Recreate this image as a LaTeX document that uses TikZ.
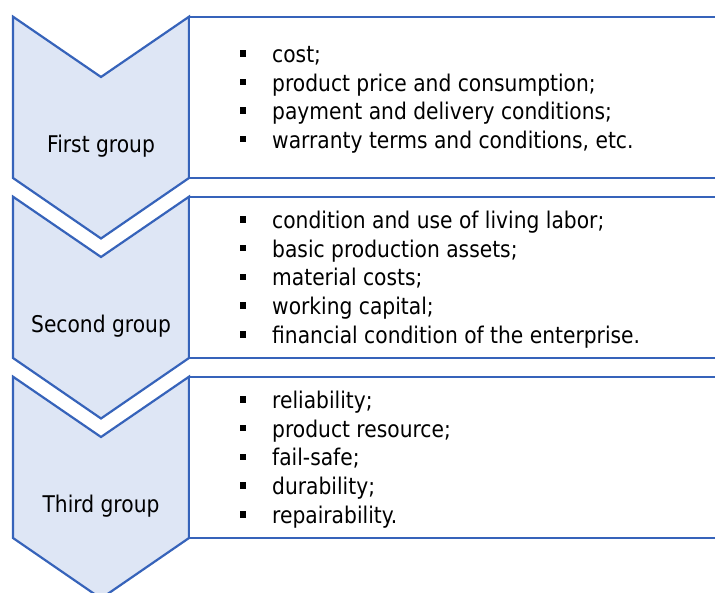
\documentclass[tikz,border=0pt]{standalone}
\usepackage{fontspec}
\setmainfont{DejaVu Sans}[FakeStretch=0.88]
\definecolor{chevfill}{HTML}{DEE6F5}
\definecolor{chevline}{HTML}{3663BA}
\tikzset{
  chev/.style={fill=chevfill, draw=chevline, line width=2.2pt, line join=miter},
  infobox/.style={fill=white, draw=chevline, line width=2.2pt},
  grouplabel/.style={font=\fontsize{23}{27}\selectfont, inner sep=0pt, anchor=base},
  itemtext/.style={font=\fontsize{23}{27}\selectfont, anchor=base west, inner sep=0pt},
  bulletbox/.style={fill=black, minimum size=6.5pt, inner sep=0pt},
}
\begin{document}
\begin{tikzpicture}[x=1pt,y=-1pt]
\clip (0,0) rectangle (715,592);
% group frames
\foreach \g in {0,1,2}{
  \pgfmathsetmacro{\o}{180*\g}
  \draw[chev] (13,16.7+\o) -- (101,77+\o) -- (189,16.7+\o) -- (189,178+\o) -- (101,238.5+\o) -- (13,178+\o) -- cycle;
  \draw[infobox] (730,16.7+\o) -- (189,16.7+\o) -- (189,178+\o) -- (730,178+\o);
}
% group labels
\node[grouplabel] (lab1) at (101,152) {First group};
\node[grouplabel] (lab2) at (101,332) {Second group};
\node[grouplabel] (lab3) at (101,512) {Third group};
% first group items
\foreach \t [count=\i] in {cost;, product price and consumption;, payment and delivery conditions;, {warranty terms and conditions, etc.}}{
  \pgfmathsetmacro{\yb}{62.5+28.5*(\i-1)}
  \node[itemtext] (ga\i) at (272,\yb) {\t};
  \node[bulletbox] (ba\i) at (243,\yb-9) {};
}
% second group items
\foreach \t [count=\i] in {condition and use of living labor;, basic production assets;, material costs;, working capital;, financial condition of the enterprise.}{
  \pgfmathsetmacro{\yb}{228.3+28.75*(\i-1)}
  \node[itemtext] (gb\i) at (272,\yb) {\t};
  \node[bulletbox] (bb\i) at (243,\yb-9) {};
}
% third group items
\foreach \t [count=\i] in {reliability;, product resource;, fail-safe;, durability;, repairability.}{
  \pgfmathsetmacro{\yb}{408.3+28.75*(\i-1)}
  \node[itemtext] (gc\i) at (272,\yb) {\t};
  \node[bulletbox] (bc\i) at (243,\yb-9) {};
}
\end{tikzpicture}
\end{document}
